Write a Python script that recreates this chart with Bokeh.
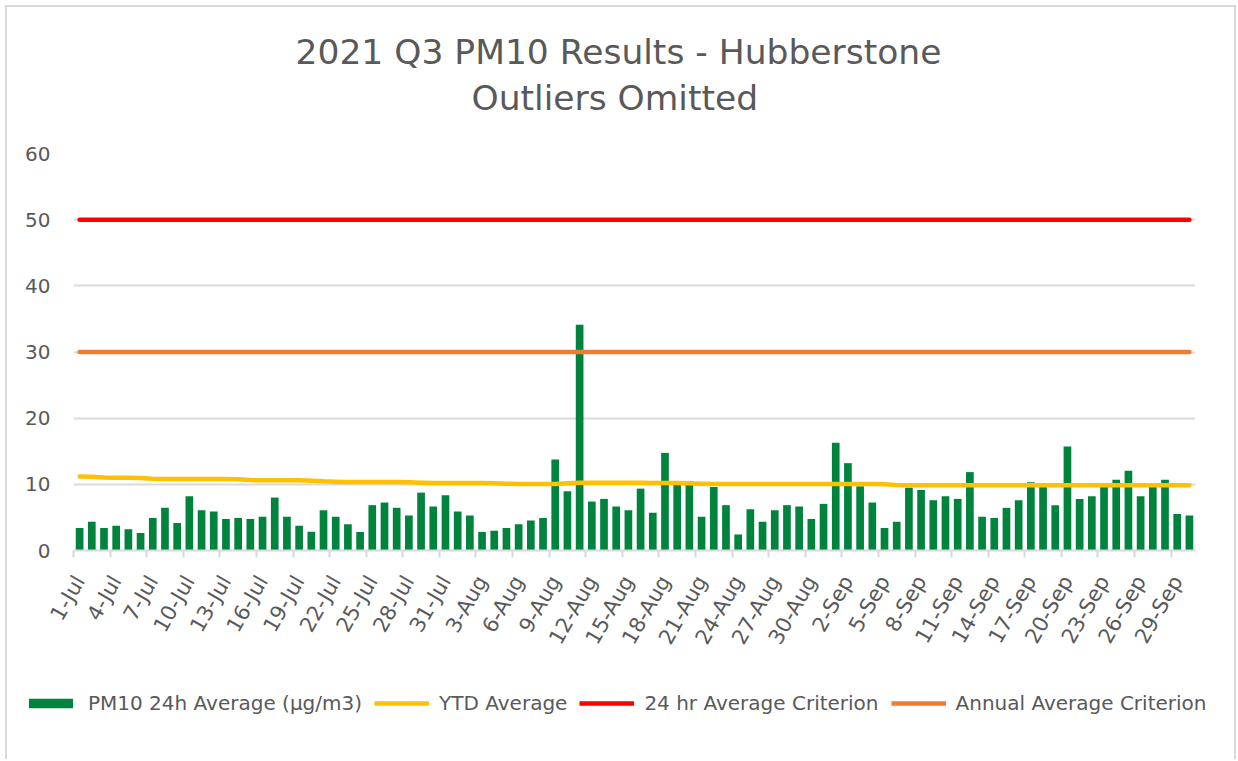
from bokeh.plotting import figure
from bokeh.models import (ColumnDataSource, FixedTicker, Legend, LegendItem,
                          Range1d, Title)
from bokeh.embed import file_html
from bokeh.resources import INLINE

# ---- data ----
months = [("Jul", 31), ("Aug", 31), ("Sep", 30)]
dates = [f"{d}-{m}" for m, n in months for d in range(1, n + 1)]

pm10 = [
    3.4, 4.35, 3.4, 3.75, 3.2, 2.65, 4.9, 6.45, 4.15, 8.2,
    6.1, 5.9, 4.75, 4.9, 4.75, 5.1, 8.0, 5.1, 3.75, 2.85,
    6.1, 5.1, 3.95, 2.8, 6.85, 7.25, 6.45, 5.3, 8.75, 6.65,
    8.35, 5.9, 5.3, 2.8, 3.0, 3.4, 3.95, 4.55, 4.9, 13.75,
    8.95, 34.1, 7.4, 7.8, 6.65, 6.1, 9.35, 5.7, 14.75, 10.3,
    10.45, 5.1, 9.6, 6.85, 2.4, 6.25, 4.35, 6.1, 6.85, 6.65,
    4.75, 7.05, 16.3, 13.2, 9.7, 7.25, 3.4, 4.35, 9.5, 9.15,
    7.6, 8.2, 7.8, 11.85, 5.1, 4.9, 6.45, 7.6, 10.3, 9.7,
    6.85, 15.7, 7.8, 8.2, 9.7, 10.7, 12.05, 8.2, 9.7, 10.7,
    5.5, 5.3,
]

ytd = [
    11.20, 11.15, 11.05, 11.00, 11.00, 10.95, 10.85, 10.80, 10.80, 10.80,
    10.80, 10.80, 10.80, 10.75, 10.65, 10.60, 10.60, 10.60, 10.60, 10.55,
    10.45, 10.40, 10.35, 10.35, 10.35, 10.35, 10.35, 10.30, 10.25, 10.20,
    10.20, 10.20, 10.20, 10.20, 10.15, 10.10, 10.05, 10.05, 10.05, 10.05,
    10.15, 10.25, 10.25, 10.25, 10.25, 10.25, 10.25, 10.20, 10.20, 10.20,
    10.15, 10.10, 10.05, 10.05, 10.05, 10.05, 10.05, 10.05, 10.05, 10.05,
    10.05, 10.05, 10.05, 10.05, 10.05, 10.05, 10.00, 9.90, 9.85, 9.85,
    9.85, 9.85, 9.85, 9.85, 9.85, 9.85, 9.85, 9.85, 9.85, 9.85,
    9.85, 9.85, 9.85, 9.85, 9.85, 9.85, 9.85, 9.85, 9.85, 9.85,
    9.85, 9.85,
]

criterion_24h = 50
criterion_annual = 30

y_ticks = [0, 10, 20, 30, 40, 50, 60]

title_line1 = "2021 Q3 PM10 Results - Hubberstone"
title_line2 = "Outliers Omitted"
legend_labels = ["PM10 24h Average (µg/m3)", "YTD Average",
                 "24 hr Average Criterion", "Annual Average Criterion"]

# ---- style ----
FONT = "DejaVu Sans"
GREY = "#595959"
GREEN = "#00833C"
YELLOW = "#FFC000"
RED = "#FF0000"
ORANGE = "#ED7D31"
LINE_W = 4.5
EDGE = "#d9d9d9"

n = len(dates)
xs = list(range(n))
src = ColumnDataSource(dict(
    x=xs, date=dates, pm10=pm10, ytd=ytd,
    c24=[criterion_24h] * n, cann=[criterion_annual] * n,
))

W = 1236
p = figure(width=W, height=670,
           x_range=Range1d(-0.5, n - 0.5), y_range=Range1d(0, 60),
           output_backend="svg", toolbar_location=None,
           min_border_left=73, min_border_right=W - 1195,
           min_border_top=153, min_border_bottom=120)

p.outline_line_color = None
p.background_fill_color = "white"
p.border_fill_color = None
g = f"linear-gradient({EDGE},{EDGE})"
p.styles = {
    "background-color": "white",
    "background-image": f"{g}, {g}, {g}",
    "background-position": "5px 5px, 1234px 5px, 5px 5px",
    "background-size": "2px 100%, 2px 100%, 1231px 2px",
    "background-repeat": "no-repeat",
}

p.title.text = title_line1
p.title.align = "left"
p.title.offset = 222
p.title.text_font = FONT
p.title.text_font_size = "34.5px"
p.title.text_font_style = "normal"
p.title.text_color = GREY
p.title.standoff = 4
spacer = Title(text=" ", text_font_size="20px", standoff=10)
t2 = Title(text=title_line2, align="left", offset=398, text_font=FONT,
           text_font_size="34.5px", text_font_style="normal",
           text_color=GREY, standoff=4)
p.add_layout(spacer, "above")
p.add_layout(t2, "above")

bars = p.vbar(x="x", top="pm10", width=0.63, source=src,
              fill_color=GREEN, line_color=None)
p.line(x="x", y="ytd", source=src, line_color=YELLOW,
       line_width=LINE_W, line_cap="round")
p.line(x="x", y="c24", source=src, line_color=RED,
       line_width=LINE_W, line_cap="round")
p.line(x="x", y="cann", source=src, line_color=ORANGE,
       line_width=LINE_W, line_cap="round")

# axes
p.yaxis.ticker = FixedTicker(ticks=y_ticks)
p.yaxis.axis_line_color = None
p.yaxis.major_tick_line_color = None
p.yaxis.minor_tick_line_color = None
p.yaxis.major_label_text_font = FONT
p.yaxis.major_label_text_font_size = "20px"
p.yaxis.major_label_text_color = GREY
p.yaxis.major_label_standoff = 17

label_idx = list(range(0, n, 3))
p.xaxis.ticker = FixedTicker(ticks=label_idx,
                             minor_ticks=[i - 0.5 for i in label_idx])
p.xaxis.major_label_overrides = {i: dates[i] for i in label_idx}
p.xaxis.major_tick_line_color = None
p.xaxis.major_tick_out = 0
p.xaxis.major_tick_in = 0
p.xaxis.minor_tick_line_color = EDGE
p.xaxis.minor_tick_line_width = 2
p.xaxis.minor_tick_out = 7
p.xaxis.minor_tick_in = 0
p.xaxis.axis_line_color = EDGE
p.xaxis.axis_line_width = 2
p.xaxis.major_label_orientation = 1.05
p.xaxis.major_label_text_font = FONT
p.xaxis.major_label_text_font_size = "21px"
p.xaxis.major_label_text_color = GREY
p.xaxis.major_label_standoff = 20

p.xgrid.grid_line_color = None
p.ygrid.grid_line_color = EDGE
p.ygrid.grid_line_width = 2

# ---- legend strip (separate root so it can sit below the axis labels) ----
lg = figure(width=W, height=89, x_range=Range1d(0, 1), y_range=Range1d(0, 1),
            output_backend="svg", toolbar_location=None,
            x_axis_location=None, y_axis_location=None,
            min_border=0)
lg.outline_line_color = None
lg.grid.visible = False
lg.background_fill_color = None
lg.border_fill_color = None
lg.styles = {
    "background-color": "white",
    "background-image": f"{g}, {g}",
    "background-position": "5px 0px, 1234px 0px",
    "background-size": "2px 100%, 2px 100%",
    "background-repeat": "no-repeat",
}
off_x = [-10, -9]
off_y = [-10, -10]
lg_bar = lg.vbar(x=[-10], top=[-9], bottom=[-10], width=0.5,
                 fill_color=GREEN, line_color=None)
lg_ytd = lg.line(x=off_x, y=off_y, line_color=YELLOW, line_width=LINE_W)
lg_24 = lg.line(x=off_x, y=off_y, line_color=RED, line_width=LINE_W)
lg_an = lg.line(x=off_x, y=off_y, line_color=ORANGE, line_width=LINE_W)

legend = Legend(items=[
    LegendItem(label=legend_labels[0], renderers=[lg_bar]),
    LegendItem(label=legend_labels[1], renderers=[lg_ytd]),
    LegendItem(label=legend_labels[2], renderers=[lg_24]),
    LegendItem(label=legend_labels[3], renderers=[lg_an]),
], orientation="horizontal", location=(23, 44))
legend.label_text_font = FONT
legend.label_text_font_size = "20px"
legend.label_text_color = GREY
legend.glyph_width = 55
legend.glyph_height = 12
legend.label_standoff = 10
legend.spacing = 12
legend.border_line_color = None
legend.background_fill_color = None
legend.padding = 4
legend.margin = 0
lg.add_layout(legend, "center")

open("out.html", "w").write(file_html([p, lg], INLINE))
